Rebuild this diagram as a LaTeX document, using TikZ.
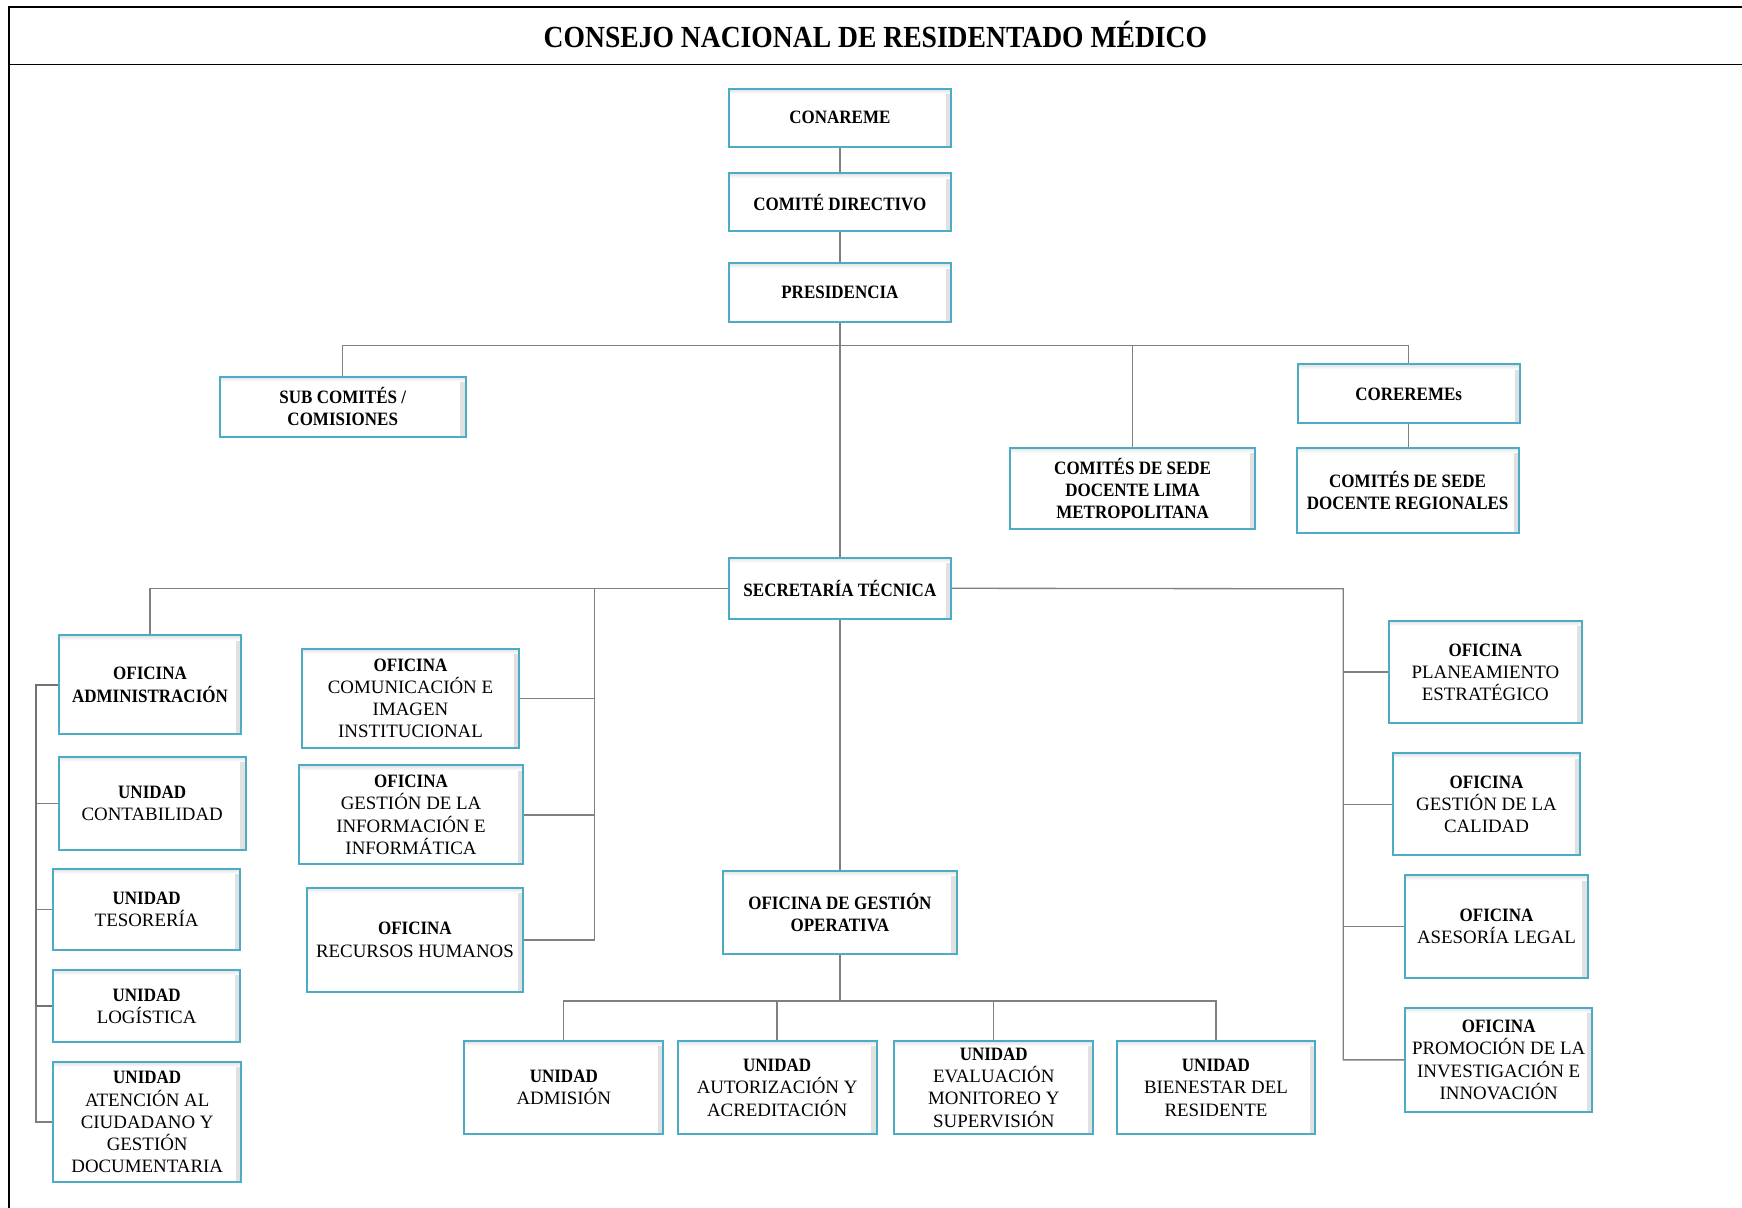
\documentclass[tikz,border=0pt]{standalone}
\usepackage{fontspec}
\setmainfont{Liberation Serif}[BoldFeatures={FakeStretch=0.9}]
\definecolor{boxblue}{RGB}{75,172,198}
\definecolor{linegray}{RGB}{128,128,128}
\newcommand\hd[1]{\textbf{#1}}
\tikzset{
  orgbox/.style={draw=boxblue, line width=0.9pt, fill=white, align=center, inner sep=1pt,
    font=\fontsize{8.5}{10}\selectfont,
    path picture={
      \shade[left color=white, right color=black!12] ([xshift=-2.2pt]path picture bounding box.north east) rectangle (path picture bounding box.south east);
      \shade[top color=black!12, bottom color=white] (path picture bounding box.north west) rectangle ([yshift=-2.2pt]path picture bounding box.north east);
    }},
  allbold/.style={font=\fontsize{8.5}{10}\selectfont\bfseries},
  conn/.style={draw=linegray, line width=0.6pt},
  frameline/.style={draw=black, line width=0.8pt},
}
\begin{document}
\begin{tikzpicture}[x=0.5pt, y=-0.5pt]
\useasboundingbox (0,0) rectangle (1568,1087);
% frame
\draw[frameline] (1568,6) -- (8,6) -- (8,1087);
\draw[frameline] (8,58) -- (1568,58);
\node[font=\fontsize{13.8}{16}\selectfont\bfseries] (title) at (788,31) {CONSEJO NACIONAL DE RESIDENTADO MÉDICO};

% top chain
\node[orgbox, allbold, minimum width=100pt, minimum height=26pt] (conareme) at (756,106) {CONAREME};
\node[orgbox, allbold, minimum width=100pt, minimum height=26pt] (comite) at (756,182) {COMITÉ DIRECTIVO};
\node[orgbox, allbold, minimum width=100pt, minimum height=26.5pt] (pres) at (756,263.5) {PRESIDENCIA};

\node[orgbox, allbold, minimum width=110.5pt, minimum height=27pt] (sub) at (308.5,366) {SUB COMITÉS /\\COMISIONES};
\node[orgbox, allbold, minimum width=110.5pt, minimum height=36.5pt] (lima) at (1019.5,439.5) {COMITÉS DE SEDE\\DOCENTE LIMA\\METROPOLITANA};
\node[orgbox, allbold, minimum width=100pt, minimum height=26.5pt] (core) at (1268,354.5) {COREREMEs};
\node[orgbox, allbold, minimum width=100pt, minimum height=38.5pt] (reg) at (1267,441.5) {COMITÉS DE SEDE\\DOCENTE REGIONALES};

\node[orgbox, allbold, minimum width=100pt, minimum height=27.5pt] (sec) at (756,529.5) {SECRETARÍA TÉCNICA};

% left column
\node[orgbox, allbold, minimum width=82pt, minimum height=44.5pt] (admin) at (135,616.5) {OFICINA\\ADMINISTRACIÓN};
\node[orgbox, minimum width=84pt, minimum height=42pt] (contab) at (137,723) {\hd{UNIDAD}\\CONTABILIDAD};
\node[orgbox, minimum width=84pt, minimum height=36.5pt] (tesor) at (132,818.5) {\hd{UNIDAD}\\TESORERÍA};
\node[orgbox, minimum width=84pt, minimum height=32.5pt] (logist) at (132,905.5) {\hd{UNIDAD}\\LOGÍSTICA};
\node[orgbox, minimum width=84.5pt, minimum height=54pt] (atenc) at (132.5,1010) {\hd{UNIDAD}\\ATENCIÓN AL\\CIUDADANO Y\\GESTIÓN\\DOCUMENTARIA};

% middle column
\node[orgbox, minimum width=97.5pt, minimum height=44.5pt] (comunic) at (369.5,628.5) {\hd{OFICINA}\\COMUNICACIÓN E\\IMAGEN\\INSTITUCIONAL};
\node[orgbox, minimum width=101pt, minimum height=44.5pt] (gestinf) at (370,733.5) {\hd{OFICINA}\\GESTIÓN DE LA\\INFORMACIÓN E\\INFORMÁTICA};
\node[orgbox, minimum width=97.5pt, minimum height=47pt] (rrhh) at (373.5,846) {\hd{OFICINA}\\RECURSOS HUMANOS};

% operative
\node[orgbox, allbold, minimum width=105pt, minimum height=37.5pt] (ogo) at (756,821.5) {OFICINA DE GESTIÓN\\OPERATIVA};
\node[orgbox, minimum width=89.5pt, minimum height=42pt] (admis) at (507.5,979) {\hd{UNIDAD}\\ADMISIÓN};
\node[orgbox, minimum width=89.5pt, minimum height=42pt] (autor) at (699.5,979) {\hd{UNIDAD}\\AUTORIZACIÓN Y\\ACREDITACIÓN};
\node[orgbox, minimum width=89.5pt, minimum height=42pt] (eval) at (894.5,979) {\hd{UNIDAD}\\EVALUACIÓN\\MONITOREO Y\\SUPERVISIÓN};
\node[orgbox, minimum width=89.5pt, minimum height=42pt] (bien) at (1094.5,979) {\hd{UNIDAD}\\BIENESTAR DEL\\RESIDENTE};

% right column
\node[orgbox, minimum width=87pt, minimum height=46pt] (plan) at (1337,605) {\hd{OFICINA}\\PLANEAMIENTO\\ESTRATÉGICO};
\node[orgbox, minimum width=84pt, minimum height=46pt] (calid) at (1338,724) {\hd{OFICINA}\\GESTIÓN DE LA\\CALIDAD};
\node[orgbox, minimum width=82pt, minimum height=46pt] (legal) at (1347,834) {\hd{OFICINA}\\ASESORÍA LEGAL};
\node[orgbox, minimum width=84pt, minimum height=47pt] (promo) at (1349,954) {\hd{OFICINA}\\PROMOCIÓN DE LA\\INVESTIGACIÓN E\\INNOVACIÓN};

% connector coordinates
\coordinate (bus1) at (756,311);
\coordinate (mtop) at (535,530);
\coordinate (rtop) at (1209,530);
\coordinate (lb) at (32.5,0);
\coordinate (bus3) at (756,901);

% connectors
\draw[conn] (conareme) -- (comite);
\draw[conn] (comite) -- (pres);
\draw[conn] (pres) -- (sec);
\draw[conn] (sub.north) |- (bus1) -| (core.north);
\draw[conn] (lima.north) -- (lima.north |- bus1);
\draw[conn] (core.south) -- (core.south |- reg.north);

\draw[conn] (admin.north) |- (sec.west);
\draw[conn] (sec.east) -- (rtop) |- (promo.west);
\draw[conn] (rtop |- plan.west) -- (plan.west);
\draw[conn] (rtop |- calid.west) -- (calid.west);
\draw[conn] (rtop |- legal.west) -- (legal.west);

\draw[conn] (mtop) |- (rrhh.east);
\draw[conn] (comunic.east) -- (comunic.east -| mtop);
\draw[conn] (gestinf.east) -- (gestinf.east -| mtop);

\draw[conn, line width=0.9pt, draw=black!55] (admin.west) -- (admin.west -| lb) -- (logist.west -| lb) -- (logist.west);
\draw[conn] (logist.west -| lb) |- (atenc.west);
\draw[conn] (contab.west -| lb) -- (contab.west);
\draw[conn] (tesor.west -| lb) -- (tesor.west);

\draw[conn] (sec) -- (ogo);
\draw[conn] (ogo.south) -- (bus3);
\draw[conn] (admis.north) |- (bus3) -| (bien.north);
\draw[conn] (autor.north) -- (autor.north |- bus3);
\draw[conn] (eval.north) -- (eval.north |- bus3);
\end{tikzpicture}
\end{document}
